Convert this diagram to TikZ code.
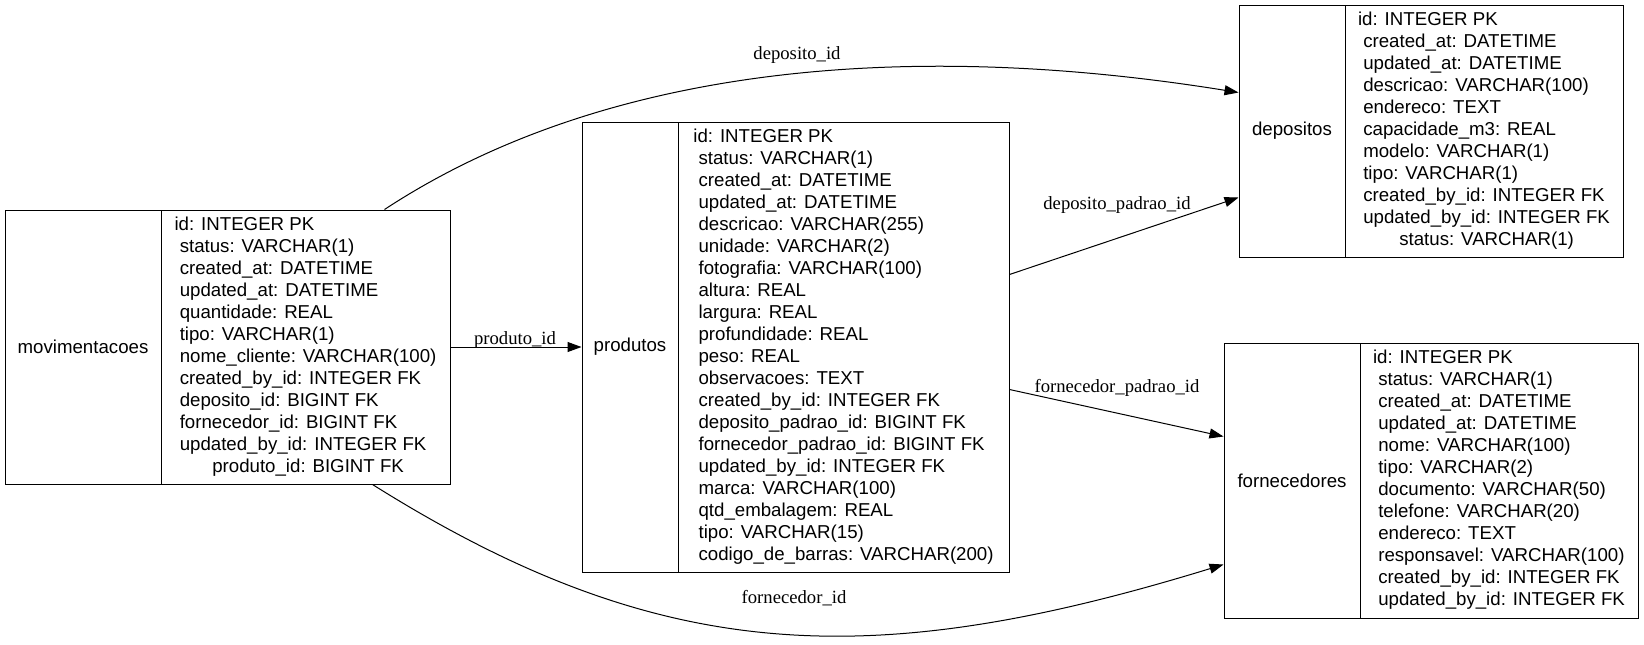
\documentclass[tikz,border=0pt]{standalone}
\usepackage{fontspec}
\setmainfont{Liberation Sans}
\newfontfamily\lblfont{Liberation Serif}
\usetikzlibrary{arrows.meta}
\begin{document}
\begin{tikzpicture}[x=1pt,y=-1pt,
  cell/.style={draw=black, line width=1pt, inner sep=0pt, align=center,
    font=\fontsize{18.67}{22}\selectfont},
  rel/.style={draw=black, line width=1pt, -{Triangle[length=14pt,width=10pt]}},
  lbl/.style={inner sep=0pt, font=\lblfont\fontsize{18.67}{22}\selectfont}]
\useasboundingbox[fill=white] (0,0) rectangle (1644,645);

% movimentacoes
\node[cell, minimum width=156pt, minimum height=274pt] (movn) at (83,347) {movimentacoes};
\node[cell, minimum width=289pt, minimum height=274pt] (movf) at (305.5,347) {%
\begin{tabular}{@{}l@{}}
id: INTEGER PK\\
\ status: VARCHAR(1)\\
\ created\_at: DATETIME\\
\ updated\_at: DATETIME\\
\ quantidade: REAL\\
\ tipo: VARCHAR(1)\\
\ nome\_cliente: VARCHAR(100)\\
\ created\_by\_id: INTEGER FK\\
\ deposito\_id: BIGINT FK\\
\ fornecedor\_id: BIGINT FK\\
\ updated\_by\_id: INTEGER FK\\
\multicolumn{1}{@{}c@{}}{\ produto\_id: BIGINT FK}
\end{tabular}};

% produtos
\node[cell, minimum width=96pt, minimum height=450pt] (prodn) at (630,347) {produtos};
\node[cell, minimum width=331pt, minimum height=450pt] (prodf) at (843.5,347) {%
\begin{tabular}{@{}l@{}}
id: INTEGER PK\\
\ status: VARCHAR(1)\\
\ created\_at: DATETIME\\
\ updated\_at: DATETIME\\
\ descricao: VARCHAR(255)\\
\ unidade: VARCHAR(2)\\
\ fotografia: VARCHAR(100)\\
\ altura: REAL\\
\ largura: REAL\\
\ profundidade: REAL\\
\ peso: REAL\\
\ observacoes: TEXT\\
\ created\_by\_id: INTEGER FK\\
\ deposito\_padrao\_id: BIGINT FK\\
\ fornecedor\_padrao\_id: BIGINT FK\\
\ updated\_by\_id: INTEGER FK\\
\ marca: VARCHAR(100)\\
\ qtd\_embalagem: REAL\\
\ tipo: VARCHAR(15)\\
\ codigo\_de\_barras: VARCHAR(200)
\end{tabular}};

% depositos
\node[cell, minimum width=106pt, minimum height=252pt] (depn) at (1292,131) {depositos};
\node[cell, minimum width=278pt, minimum height=252pt] (depf) at (1484,131) {%
\begin{tabular}{@{}l@{}}
id: INTEGER PK\\
\ created\_at: DATETIME\\
\ updated\_at: DATETIME\\
\ descricao: VARCHAR(100)\\
\ endereco: TEXT\\
\ capacidade\_m3: REAL\\
\ modelo: VARCHAR(1)\\
\ tipo: VARCHAR(1)\\
\ created\_by\_id: INTEGER FK\\
\ updated\_by\_id: INTEGER FK\\
\multicolumn{1}{@{}c@{}}{\ status: VARCHAR(1)}
\end{tabular}};

% fornecedores
\node[cell, minimum width=136pt, minimum height=275pt] (fornn) at (1292,480.5) {fornecedores};
\node[cell, minimum width=278pt, minimum height=275pt] (fornf) at (1499,480.5) {%
\begin{tabular}{@{}l@{}}
id: INTEGER PK\\
\ status: VARCHAR(1)\\
\ created\_at: DATETIME\\
\ updated\_at: DATETIME\\
\ nome: VARCHAR(100)\\
\ tipo: VARCHAR(2)\\
\ documento: VARCHAR(50)\\
\ telefone: VARCHAR(20)\\
\ endereco: TEXT\\
\ responsavel: VARCHAR(100)\\
\ created\_by\_id: INTEGER FK\\
\ updated\_by\_id: INTEGER FK
\end{tabular}};

% connectors
\draw[rel] (movf.east) -- (prodn.west);
\draw[rel] ([xshift=224pt]movf.north west) .. controls (600,68) and (900,38) .. ([yshift=-88pt]depn.north west);
\draw[rel] ([xshift=212pt]movf.south west) .. controls (660,665) and (870,673) .. ([yshift=-222pt]fornn.north west);
\draw[rel] ([yshift=-153pt]prodf.north east) -- ([yshift=-193pt]depn.north west);
\draw[rel] ([yshift=-268pt]prodf.north east) -- ([yshift=-94pt]fornn.north west);

% labels
\node[lbl] (lprod) at (515,340) {produto\_id};
\node[lbl] (ldep) at (797,55) {deposito\_id};
\node[lbl] (lforn) at (794,598) {fornecedor\_id};
\node[lbl] (ldepp) at (1117,205) {deposito\_padrao\_id};
\node[lbl] (lfornp) at (1117,388) {fornecedor\_padrao\_id};
\end{tikzpicture}
\end{document}
